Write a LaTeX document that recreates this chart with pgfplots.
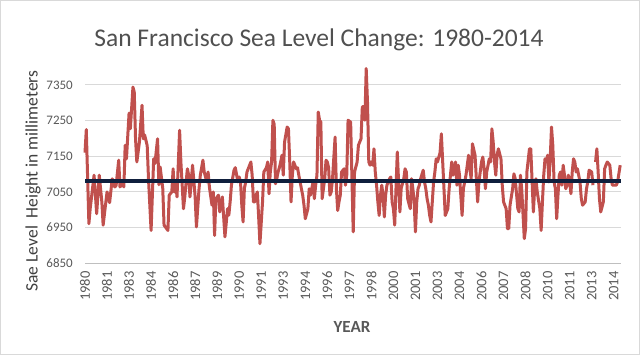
\documentclass[border=0pt]{standalone}
\usepackage{pgfplots}
\pgfplotsset{compat=1.18}
\usepackage{pgfplotstable}
\usepackage{fontspec}
\setmainfont{Carlito}
\definecolor{sered}{HTML}{C0504D}
\definecolor{navy}{HTML}{0F1F3D}
\definecolor{txtgray}{HTML}{595959}
\definecolor{titgray}{HTML}{505050}
\definecolor{labgray}{HTML}{404040}
\definecolor{gridgray}{HTML}{D9D9D9}
\definecolor{axgray}{HTML}{BFBFBF}

\pgfplotstableread{
x y
0 7160
1 7225
3 6961
4 7003
7 7097
9 6989
11 7097
13 7022
14 6957
17 7050
19 7020
21 7087
23 7064
24 7068
26 7139
27 7064
29 7075
30 7064
31 7181
32 7143
34 7271
35 7227
37 7344
38 7330
39 7199
40 7134
42 7190
44 7293
45 7199
46 7210
48 7180
49 7087
51 6942
53 7143
54 7130
56 7199
57 7070
58 7120
60 7060
61 6957
64 6942
65 7041
67 7050
68 7115
69 7050
70 7078
71 7036
73 7223
74 7134
76 7003
77 7036
79 7115
80 7097
81 7036
83 7125
85 7036
86 6952
88 7059
89 7097
91 7139
92 7106
94 7078
95 7106
96 7064
98 7013
99 7050
100 6928
101 7031
103 7041
104 6994
106 7036
107 6980
108 6924
110 7003
111 6985
112 7022
113 7069
115 7111
116 7118
118 7078
119 7092
120 7078
121 7013
122 6966
123 7060
124 7078
125 7106
128 7134
129 7097
130 7022
131 7022
132 7041
133 7050
134 6980
135 6905
137 7022
138 7106
140 7118
141 7134
142 7045
143 7106
144 7134
145 7251
146 7240
147 7073
148 7087
149 7106
150 7118
151 7134
152 7153
153 7097
154 7190
156 7232
157 7227
158 7134
159 7022
160 7097
161 7134
163 7115
164 7118
165 7097
167 7059
168 7041
169 7013
170 6975
172 7003
173 7059
174 7041
176 7078
177 7031
178 7069
179 7097
180 7274
181 7251
182 7246
183 7031
184 7059
185 7087
186 7139
187 7134
188 7118
189 7041
190 7050
191 7087
193 7204
194 7059
195 6998
196 7022
197 7041
198 7106
200 7115
201 7069
202 7097
203 7251
205 7246
206 7087
207 6938
208 7106
210 7134
211 7181
212 7190
213 7199
214 7288
215 7290
216 7251
217 7396
218 7302
219 7134
220 7125
221 7134
222 7125
223 7171
224 7106
225 7069
226 7022
227 6984
228 7041
229 7069
230 7041
231 6980
232 7041
233 7069
235 7087
236 7092
237 7022
238 7003
239 6957
240 7060
241 7162
242 7078
243 6994
244 7060
246 7087
247 7115
248 7106
249 7031
251 7003
252 7087
253 7060
254 7022
255 6938
256 7022
257 7059
258 7069
259 7087
261 7111
262 7078
263 7059
264 7031
265 7013
266 6984
267 6966
269 7078
270 7106
271 7143
272 7134
274 7160
275 7213
278 6984
280 7003
281 7059
283 7134
284 7097
286 7134
287 7069
288 7125
289 7097
291 6984
292 7059
294 7097
296 7153
297 7115
298 7087
299 7185
301 7153
302 7087
303 7022
304 7078
306 7134
307 7148
308 7115
309 7059
310 7106
312 7143
313 7134
314 7227
315 7190
316 7134
317 7097
318 7153
319 7171
321 7143
322 7069
323 7022
325 7003
326 6947
327 6947
328 7013
330 7059
331 7101
332 7087
334 7003
335 6994
336 7097
337 7059
339 6919
340 6947
341 7106
343 7171
344 7171
346 6994
347 7059
348 7087
349 7050
351 7003
352 6942
353 7022
354 7097
355 7143
356 7134
357 7153
358 7078
359 7143
360 7232
361 7181
362 7078
363 7059
364 6975
365 7041
366 7097
367 7106
368 7069
369 7125
370 7097
371 7059
372 7069
373 7097
374 7078
375 7045
376 7106
377 7143
378 7134
379 7106
380 7115
382 7078
383 7031
384 7013
386 7022
387 7059
388 7078
389 7111
391 7106
392 7069
393 nan
394 7134
395 7171
396 7106
397 7031
398 6994
400 7022
401 7115
402 7125
403 7134
405 7125
406 7087
407 7069
409 7069
410 7069
411 7078
413 7125
}\sealevel

\begin{document}
\begin{tikzpicture}[x=1pt,y=1pt]
\draw[gridgray, line width=1pt] (0.5,0.5) rectangle (639.5,354.5);
\node[anchor=base, text=titgray, font=\fontsize{25.5}{30}\selectfont] at (319,308) {San Francisco Sea Level Change: 1980-2014};
\node[rotate=90, anchor=base, text=labgray, font=\fontsize{17.5}{21}\selectfont] at (37.5,174) {Sae Level\ \ Height in millimeters};
\node[anchor=base, text=txtgray, font=\fontsize{17}{20}\selectfont\bfseries] at (352,22) {YEAR};
\begin{axis}[
  at={(85pt,91.7pt)}, anchor=south west,
  scale only axis, width=535.7pt, height=196.2pt,
  xmin=0, xmax=413.4, ymin=6850, ymax=7400,
  clip=false,
  separate axis lines,
  axis x line*=bottom, axis y line*=left,
  y axis line style={draw=none},
  x axis line style={axgray, line width=1pt},
  ytick={6850,6950,7050,7150,7250,7350},
  ymajorgrids, grid style={gridgray, line width=1pt},
  ytick style={draw=none},
  xtick={0,17,...,408},
  xticklabels={1980,1981,1983,1984,1986,1987,1989,1990,1991,1993,1994,1996,1997,1998,2000,2001,2003,2004,2006,2007,2008,2010,2011,2013,2014},
  minor xtick={0,12,...,408},
  major tick length=0pt,
  minor tick length=10pt,
  tick align=center,
  minor x tick style={axgray, line width=1pt},
  xtick style={draw=none},
  /pgf/number format/1000 sep={},
  /pgf/number format/assume math mode=true,
  yticklabel style={text=txtgray, font=\fontsize{13}{15}\selectfont, inner sep=0pt, anchor=east},
  yticklabel shift=12pt,
  xticklabel style={text=txtgray, font=\fontsize{14.5}{16}\selectfont, inner sep=0pt, rotate=90, anchor=east},
  xticklabel shift=8pt,
  unbounded coords=jump,
]
\addplot[sered, line width=3pt, line join=round] table[x=x, y=y] {\sealevel};
\addplot[navy, line width=4pt] coordinates {(0,7080) (413.4,7080)};
\end{axis}
\end{tikzpicture}
\end{document}
